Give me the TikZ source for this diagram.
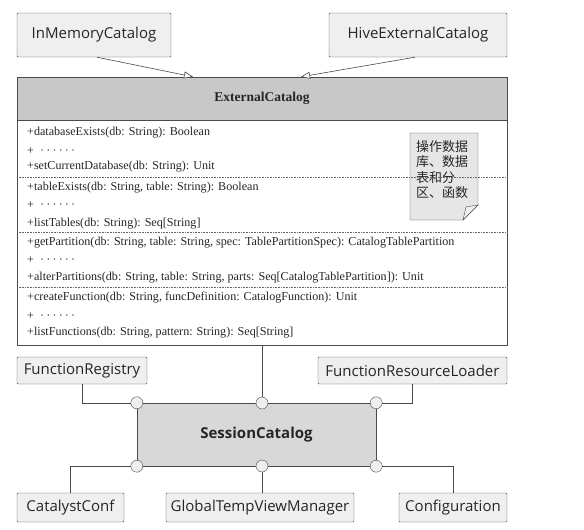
\documentclass[tikz,border=0pt]{standalone}
\usepackage{fontspec}
\setmainfont{Liberation Serif}
\newfontfamily\boxfont{Open Sans}
\newfontfamily\cjk{Noto Sans CJK SC}
\usetikzlibrary{arrows.meta,calc}
\definecolor{boxgray}{HTML}{EFEFEF}
\definecolor{hdrgray}{HTML}{C8C8C8}
\definecolor{sessgray}{HTML}{D8D8D8}
\definecolor{notegray}{HTML}{E6E6E6}
\definecolor{linegray}{HTML}{4A4A4A}
\newcommand{\elli}{+\ \ ·\hspace{2.2pt}·\hspace{2.2pt}·\hspace{2.2pt}·\hspace{2.2pt}·\hspace{2.2pt}·}
\tikzset{
  cls/.style={draw=linegray, fill=boxgray, rounded corners=1pt, inner sep=0pt, text=black!85,
    font=\boxfont\fontsize{15}{17}\selectfont},
  meth/.style={anchor=west, inner sep=0pt, text=black!85, font=\fontsize{12.1}{14}\selectfont},
  port/.style={circle, draw=linegray, fill=boxgray, minimum size=12pt, inner sep=0pt},
  link/.style={draw=linegray, line width=0.6pt},
  sep/.style={draw=black!60, densely dotted, line width=0.6pt},
  inh/.style={link, -{Triangle[open, length=9pt, width=7pt, fill=white]}}
}
\begin{document}
\begin{tikzpicture}[x=1pt,y=-1pt]
\useasboundingbox (0,0) rectangle (584,530);
% top subclasses
\node[cls, minimum width=154pt, minimum height=44pt] (imc) at (94,35) {InMemoryCatalog};
\node[cls, minimum width=178pt, minimum height=44pt] (hive) at (418,35) {HiveExternalCatalog};
% ExternalCatalog
\node[draw=linegray, fill=hdrgray, minimum width=490pt, minimum height=43pt, inner sep=0pt, text=black!85,
  font=\bfseries\fontsize{13.5}{15}\selectfont] (hdr) at (262,98.5) {ExternalCatalog};
\node[draw=linegray, fill=white, minimum width=490pt, minimum height=225pt, inner sep=0pt,
  anchor=north] (body) at (hdr.south) {};
% note
\fill[notegray, draw=linegray] (410,133) -- (478,133) -- (478,205) -- (463,220) -- (410,220) -- cycle;
\filldraw[fill=boxgray, draw=linegray] (463,220) -- (466,207) -- (478,205) -- cycle;
\node[anchor=north west, inner sep=0pt, align=left, font=\cjk\fontsize{13}{15.5}\selectfont, text=black!85]
  (note) at (416,140) {操作数据\\库、数据\\表和分\\区、函数};
% separators
\draw[sep] (17,177) -- (507,177);
\draw[sep] (17,232) -- (507,232);
\draw[sep] (17,287) -- (507,287);
% methods
\node[meth] (m1) at (27,133) {+databaseExists(db: String): Boolean};
\node[meth] (m2) at (27,151) {\elli};
\node[meth] (m3) at (27,167) {+setCurrentDatabase(db: String): Unit};
\node[meth] (m4) at (27,188) {+tableExists(db: String, table: String): Boolean};
\node[meth] (m5) at (27,205) {\elli};
\node[meth] (m6) at (27,224) {+listTables(db: String): Seq[String]};
\node[meth] (m7) at (27,243) {+getPartition(db: String, table: String, spec: TablePartitionSpec): CatalogTablePartition};
\node[meth] (m8) at (27,260) {\elli};
\node[meth] (m9) at (27,278) {+alterPartitions(db: String, table: String, parts: Seq[CatalogTablePartition]): Unit};
\node[meth] (m10) at (27,298) {+createFunction(db: String, funcDefinition: CatalogFunction): Unit};
\node[meth] (m11) at (27,316) {\elli};
\node[meth] (m12) at (27,333) {+listFunctions(db: String, pattern: String): Seq[String]};
% inheritance arrows
\draw[inh] ([xshift=3pt]imc.south) -- ([xshift=-69pt]hdr.north);
\draw[inh] ([xshift=-3pt]hive.south) -- ([xshift=39pt]hdr.north);
% SessionCatalog
\node[draw=linegray, fill=sessgray, minimum width=239pt, minimum height=63pt, inner sep=0pt, text=black!85,
  font=\boxfont\bfseries\fontsize{15}{17}\selectfont] (sess) at (256.5,434.5) {SessionCatalog};
\node[port] (pnw) at (sess.north west) {};
\node[port] (pn) at (262,403) {};
\node[port] (pne) at (sess.north east) {};
\node[port] (psw) at (sess.south west) {};
\node[port] (ps) at (262,466) {};
\node[port] (pse) at (sess.south east) {};
% dependencies
\node[cls, minimum width=130pt, minimum height=27pt] (fr) at (82,370.5) {FunctionRegistry};
\node[cls, minimum width=189pt, minimum height=27pt] (frl) at (412.5,370.5) {FunctionResourceLoader};
\node[cls, minimum width=107pt, minimum height=29pt] (cc) at (70.5,507.5) {CatalystConf};
\node[cls, minimum width=188pt, minimum height=29pt] (gt) at (260,507.5) {GlobalTempViewManager};
\node[cls, minimum width=108pt, minimum height=29pt] (conf) at (453,507.5) {Configuration};
\draw[link] (body.south) -- (pn.north);
\draw[link] (fr.south) |- (pnw.west);
\draw[link] (frl.south) |- (pne.east);
\draw[link] (psw.west) -| (cc.north);
\draw[link] (ps.south) -- (ps.south |- gt.north);
\draw[link] (pse.east) -| (conf.north);
\end{tikzpicture}
\end{document}
